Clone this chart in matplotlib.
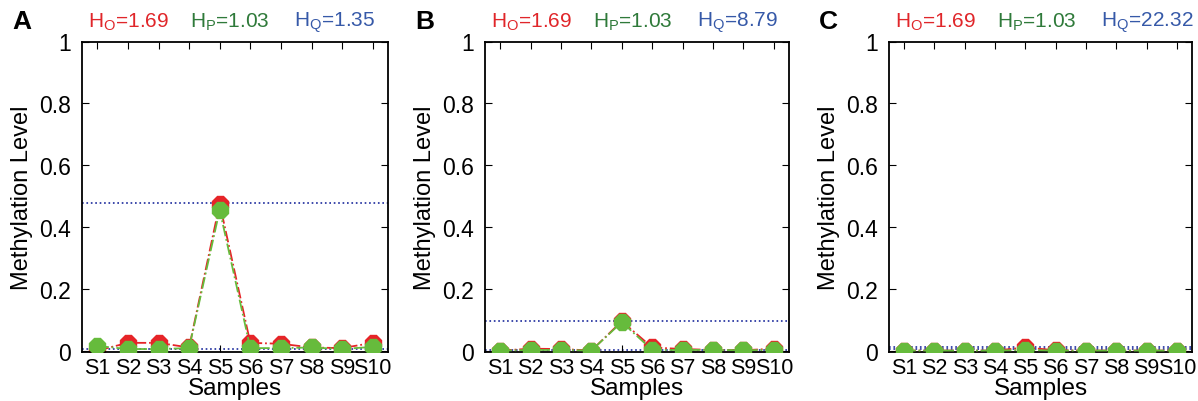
import numpy as np
import matplotlib
matplotlib.use('Agg')
import matplotlib.pyplot as plt

plt.rcParams['font.family'] = ['Liberation Sans', 'DejaVu Sans']
plt.rcParams['mathtext.fontset'] = 'custom'
plt.rcParams['mathtext.rm'] = 'Liberation Sans'

samples = ['S1', 'S2', 'S3', 'S4', 'S5', 'S6', 'S7', 'S8', 'S9', 'S10']
panels = ['A', 'B', 'C']

obs_A = [0.0, 0.025, 0.025, 0.01, 0.475, 0.025, 0.022, 0.01, 0.008, 0.025]
pred_A = [0.015, 0.005, 0.005, 0.008, 0.455, 0.008, 0.008, 0.01, 0.005, 0.012]
obs_B = [0.0, 0.006, 0.005, 0.0, 0.095, 0.01, 0.005, 0.002, 0.001, 0.006]
pred_B = [0.0, 0.002, 0.002, 0.0, 0.092, 0.002, 0.002, 0.002, 0.001, 0.002]
obs_C = [0.0, 0.0, 0.0, 0.0, 0.01, 0.001, 0.0, 0.0, 0.0, 0.0]
pred_C = [0.0, 0.0, 0.0, 0.0, 0.002, 0.0, 0.0, 0.0, 0.0, 0.0]
q_lines = [[0.477, 0.004], [0.097, 0.003], [0.011, 0.004]]

h_o = ['1.69', '1.69', '1.69']
h_p = ['1.03', '1.03', '1.03']
h_q = ['1.35', '8.79', '22.32']

obs = [obs_A, obs_B, obs_C]
pred = [pred_A, pred_B, pred_C]

red = '#e62428'
green = '#66bb3c'
blue_line = '#1b2a9c'

fig = plt.figure(figsize=(11.98, 4.02), dpi=100)
lefts = [82, 485, 889]
widths = [306, 304, 303]
x = np.arange(1, 11)

for i in range(3):
    ax = fig.add_axes([lefts[i] / 1198, 49.5 / 402, widths[i] / 1198, 310 / 402])
    for q in q_lines[i]:
        ax.axhline(q, color=blue_line, linestyle=':', linewidth=1.2, zorder=1)
    ax.plot(x, obs[i], color=red, linestyle='-.', linewidth=1.3,
            marker='8', markersize=13, markerfacecolor=red, markeredgecolor=red, zorder=2)
    ax.plot(x, pred[i], color=green, linestyle='-.', linewidth=1.3,
            marker='8', markersize=12, markerfacecolor=green, markeredgecolor=green, zorder=3)
    ax.set_xlim(0.5, 10.5)
    ax.set_ylim(-0.003, 1)
    ax.set_xticks(x)
    ax.set_xticklabels(samples, fontsize=15.5)
    ax.set_yticks([0, 0.2, 0.4, 0.6, 0.8, 1])
    ax.set_yticklabels(['0', '0.2', '0.4', '0.6', '0.8', '1'], fontsize=16.5)
    ax.tick_params(direction='in', top=True, right=True, length=5)
    ax.tick_params(axis='x', pad=4)
    ax.tick_params(axis='y', pad=8)
    for s in ax.spines.values():
        s.set_linewidth(1.3)
    ax.set_xlabel('Samples', fontsize=17.5, labelpad=-1)
    ax.set_ylabel('Methylation Level', fontsize=17, labelpad=4)

    x0 = lefts[i] / 1198
    fig.text(x0 - 70 / 1198, 0.945, panels[i], fontsize=19, fontweight='bold', va='center')
    fig.text(x0 + 6 / 1198, 0.945, r'H$_\mathregular{O}$=' + h_o[i], color='#e0262a', fontsize=15, va='center')
    fig.text(x0 + 108 / 1198, 0.945, r'H$_\mathregular{P}$=' + h_p[i], color='#2f7a3a', fontsize=15, va='center')
    fig.text(x0 + 212 / 1198, 0.945, r'H$_\mathregular{Q}$=' + h_q[i], color='#3659a8', fontsize=15, va='center')

fig.savefig('out.png', dpi=100)
